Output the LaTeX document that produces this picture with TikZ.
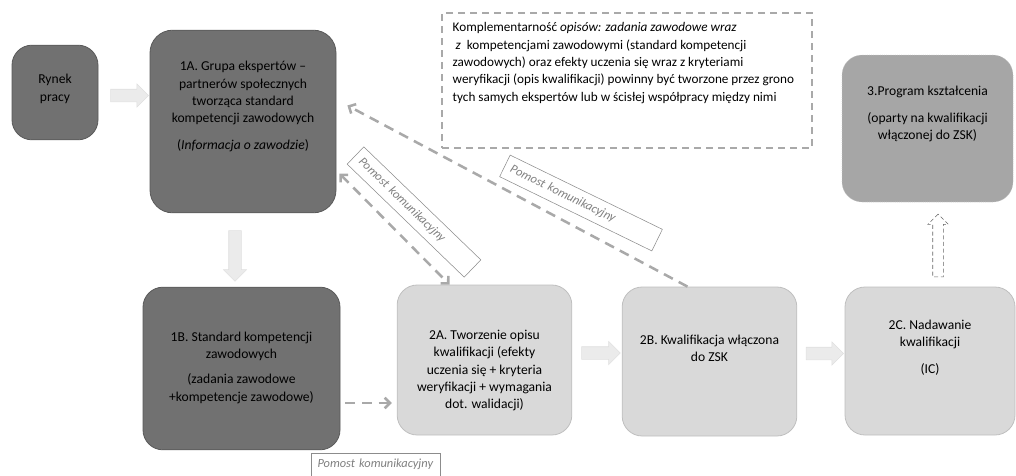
\documentclass[tikz,border=0pt]{standalone}
\usepackage{fontspec}
\setmainfont{Carlito}
\usetikzlibrary{arrows.meta,calc,shapes.arrows}

\definecolor{darkbox}{HTML}{717171}
\definecolor{midbox}{HTML}{A6A6A6}
\definecolor{lightbox}{HTML}{D9D9D9}
\definecolor{bridgegray}{HTML}{A9A9A9}
\definecolor{flowgray}{HTML}{EBEBEB}

\begin{document}
\begin{tikzpicture}[x=0.75pt,y=-0.75pt,
    darkstep/.style={draw=black!65,fill=darkbox,rounded corners=15pt,line width=0.6pt},
    lightstep/.style={draw=black!25,fill=lightbox,rounded corners=15pt,line width=0.6pt},
    steptext/.style={align=center,font=\fontsize{10.2}{13}\selectfont},
    flow/.style={single arrow,draw=black!12,fill=flowgray,inner sep=4.5pt,
        single arrow head extend=4pt,single arrow tip angle=90},
    bridge/.style={draw=bridgegray,line width=1.9pt,dash pattern=on 7.5pt off 5pt,
        -{Straight Barb[length=4pt,width=8pt]}},
    bridgelabel/.style={draw=black!45,fill=white,text=black!50,align=left,
        font=\fontsize{9.3}{11}\itshape\selectfont,inner xsep=5pt,minimum height=18pt}]
    \useasboundingbox (0,0) rectangle (1016,475);

    % boxes
    \node[darkstep,minimum width=64.5pt,minimum height=71pt] (rynek) at (55,92.5) {};
    \node[darkstep,minimum width=139.5pt,minimum height=137pt,rounded corners=17pt] (g1a) at (243,121.5) {};
    \node[darkstep,minimum width=147.75pt,minimum height=122pt] (g1b) at (241.5,368.5) {};
    \node[lightstep,minimum width=131pt,minimum height=112.5pt] (g2a) at (484.5,360) {};
    \node[lightstep,minimum width=131pt,minimum height=111.75pt] (g2b) at (709.5,361.5) {};
    \node[lightstep,minimum width=127.5pt,minimum height=111pt] (g2c) at (930,361) {};
    \node[draw=black!20,densely dotted,fill=midbox,rounded corners=15pt,
        minimum width=128.25pt,minimum height=110.25pt] (g3) at (927.5,128.5) {};
    \node[draw=bridgegray,line width=1pt,dash pattern=on 5pt off 4pt,
        minimum width=277.5pt,minimum height=101.25pt] (note) at (627,80.5) {};

    % texts
    \node[steptext] (rynek-t) at (55,89) {Rynek\\pracy};
    \node[steptext] (g1a-t) at (243,106.5) {1A. Grupa ekspertów --\\partnerów społecznych\\tworząca standard\\kompetencji zawodowych\\[7pt](\textit{Informacja o zawodzie})};
    \node[steptext] (g1b-t) at (241.5,367.5) {1B. Standard kompetencji\\zawodowych\\[6pt](zadania zawodowe\\+kompetencje zawodowe)};
    \node[steptext] (g2a-t) at (484.5,370.5) {2A. Tworzenie opisu\\kwalifikacji (efekty\\uczenia się + kryteria\\weryfikacji + wymagania\\dot. walidacji)};
    \node[steptext] (g2b-t) at (709.5,348) {2B. Kwalifikacja włączona\\do ZSK};
    \node[steptext] (g2c-t) at (930,347.5) {2C. Nadawanie\\kwalifikacji\\[7pt](IC)};
    \node[steptext] (g3-t) at (927.5,114) {3.Program kształcenia\\[7pt](oparty na kwalifikacji\\włączonej do ZSK)};
    \node[anchor=north west,align=left,font=\fontsize{9.9}{13}\selectfont] (note-t) at (448,18)
        {Komplementarność \textit{opisów: zadania zawodowe wraz}\\
        \ \textit{z}\ \ kompetencjami zawodowymi (standard kompetencji\\
        zawodowych) oraz efekty uczenia się wraz z kryteriami\\
        weryfikacji (opis kwalifikacji) powinny być tworzone przez grono\\
        tych samych ekspertów lub w ścisłej współpracy między nimi};

    % block arrows
    \node[flow,minimum height=28.5pt] (f1) at ($(rynek.east)+(28,3)$) {};
    \node[flow,shape border rotate=270,minimum height=38pt] (f2) at ($(g1a.south)+(-8,39.5)$) {};
    \node[flow,minimum height=29pt] (f3) at ($(g2a.east)+(25.5,-7)$) {};
    \node[flow,minimum height=28pt] (f4) at ($(g2b.east)+(24.5,-8)$) {};
    \node[single arrow,draw=black!60,densely dashed,fill=white,inner sep=3.75pt,
        shape border rotate=90,single arrow head extend=3.75pt,single arrow tip angle=90,
        minimum height=47pt] (f5) at ($(g2c.north)+(8,-38.5)$) {};

    % bridges
    \draw[bridge] ($(g2b.north)+(-22,0)$) -- ($(g1a.east)+(11,-16)$);
    \draw[bridge,{Straight Barb[length=4pt,width=8pt]}-{Straight Barb[length=4pt,width=8pt]}]
        ($(g1a.east)+(3,52)$) -- ($(g2a.north)+(-35,0)$);
    \draw[bridge] ($(g1b.east)+(5,34.5)$) -- ($(g2a.west)+(-5,43)$);

    \node[bridgelabel,rotate=-44,text width=112pt] (lab1) at (414,212) {Pomost komunikacyjny};
    \node[bridgelabel,rotate=-26,text width=117pt] (lab2) at (581,203) {Pomost komunikacyjny};
    \node[bridgelabel,text width=87pt,minimum height=17pt] (lab3) at (375.5,464.5) {Pomost komunikacyjny};
\end{tikzpicture}
\end{document}
